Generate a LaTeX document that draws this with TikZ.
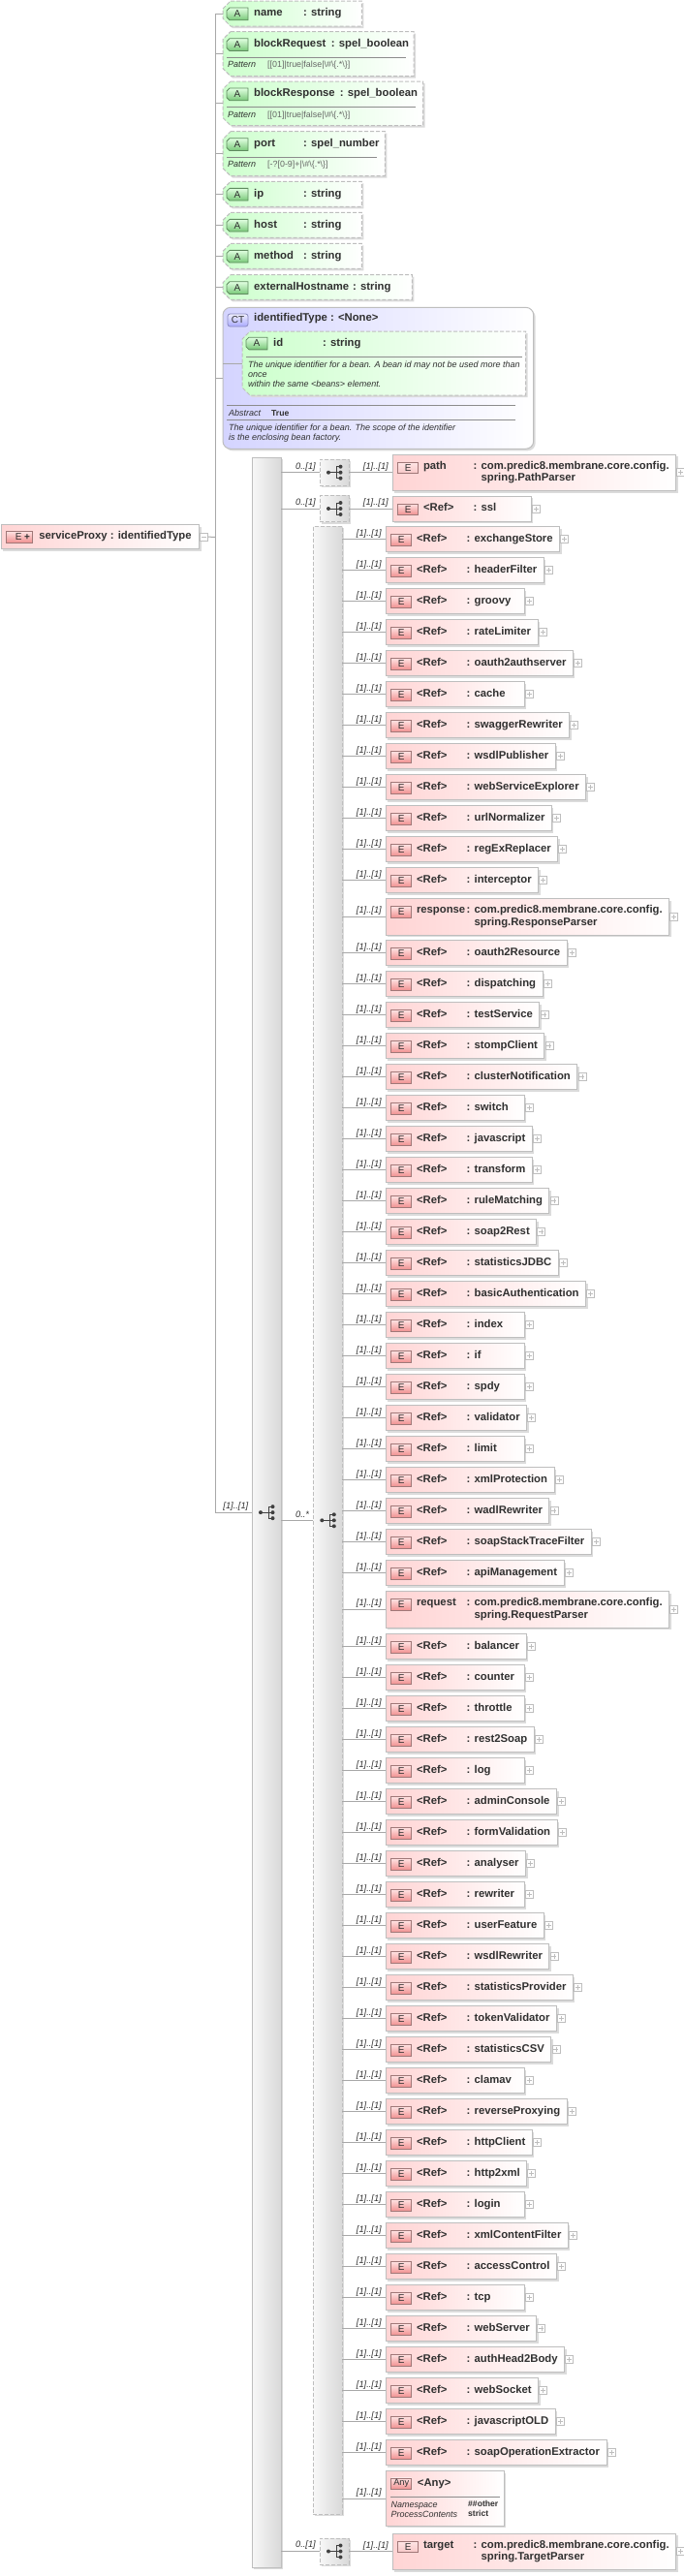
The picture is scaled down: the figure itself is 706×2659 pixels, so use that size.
\documentclass[tikz,border=0pt]{standalone}
\usepackage{fontspec}
\setmainfont{Liberation Sans}
\usetikzlibrary{shapes.misc,shadows,calc}
\definecolor{txt}{HTML}{303030}
\definecolor{edge}{HTML}{BEBEBE}
\definecolor{conncol}{HTML}{A8A8A8}
\definecolor{pinkb}{HTML}{FFD4D4}
\definecolor{greenb}{HTML}{CCFFCC}
\definecolor{blueb}{HTML}{D4D4FF}
\definecolor{iconred}{HTML}{F09090}
\definecolor{iconredb}{HTML}{A07878}
\definecolor{icongreen}{HTML}{78C878}
\definecolor{icongreenb}{HTML}{5F8A5F}
\newsavebox\rowbox
\newcommand\minrow[1]{\sbox\rowbox{#1}\ifdim\wd\rowbox<129pt\makebox[129pt][l]{\usebox\rowbox}\else\usebox\rowbox\fi}
\tikzset{
  shadowed/.style={general shadow={shadow xshift=2pt,shadow yshift=-2pt,fill=black!14}},
  elbox/.style={rectangle,draw=edge,line width=1pt,anchor=north west,outer sep=0pt,inner xsep=7pt,inner ysep=0pt,
    left color=pinkb,right color=white,shadowed,text=txt,font=\fontsize{11.3}{12.4}\selectfont\bfseries,
    text height=8pt,text depth=3pt,minimum height=26pt,minimum width=143pt},
  twoline/.style={text depth=15pt,minimum height=37.5pt},
  eicon/.style={rectangle,draw=iconredb,line width=.8pt,top color=pinkb!70,bottom color=iconred,minimum width=21pt,minimum height=11.5pt,inner sep=0pt,text=txt,font=\fontsize{10}{10}\selectfont},
  eiconl/.style={eicon,top color=pinkb!60,bottom color=iconred!50},
  plusbox/.style={rectangle,draw=edge,line width=.7pt,fill=white,minimum size=8pt,inner sep=0pt,outer sep=0pt,anchor=west,
    path picture={\draw[edge,line width=.6pt] ($(path picture bounding box.center)+(-2.5pt,0pt)$) -- ($(path picture bounding box.center)+(2.5pt,0pt)$);
      \draw[edge,line width=.6pt] ($(path picture bounding box.center)+(0pt,-2.5pt)$) -- ($(path picture bounding box.center)+(0pt,2.5pt)$);}},
  minusbox/.style={rectangle,draw=edge,line width=.7pt,fill=white,minimum size=8pt,inner sep=0pt,outer sep=0pt,anchor=west,
    path picture={\draw[edge,line width=.6pt] ($(path picture bounding box.center)+(-2.5pt,0pt)$) -- ($(path picture bounding box.center)+(2.5pt,0pt)$);}},
  conn/.style={draw=conncol,line width=1pt},
  mult/.style={anchor=base east,inner sep=0pt,text=txt,font=\fontsize{9.3}{10}\selectfont\itshape},
  boxanchor/.style={rectangle,inner sep=0pt,outer sep=0pt,anchor=west},
  attrpath/.style={draw=edge,dash pattern=on 4pt off 2pt,line width=1pt,left color=greenb,right color=white,shadowed},
  aiconpath/.style={draw=icongreenb,line width=.8pt,top color=greenb!60,bottom color=icongreen},
  icontext/.style={inner sep=0pt,text=txt,font=\fontsize{10}{10}\selectfont},
  title/.style={anchor=base west,inner sep=0pt,text=txt,font=\fontsize{11.3}{12.4}\selectfont\bfseries},
  small/.style={anchor=base west,inner sep=0pt,text=txt,font=\fontsize{9}{10}\selectfont\itshape},
  smallv/.style={anchor=base west,inner sep=0pt,text=black!60,font=\fontsize{8.9}{10}\selectfont},
  rule/.style={draw=black!45,line width=.7pt},
  barbox/.style={rectangle,line width=1pt,draw=edge,left color=black!3,right color=black!15,shadowed,inner sep=0pt,outer sep=0pt,anchor=north west},
  dashbar/.style={barbox,dash pattern=on 4pt off 2pt},
  seqicon/.pic={
    \draw[black!75,line width=.9pt] (-6,0) -- (2,0) (2,-6) -- (2,6) (2,-6) -- (6.5,-6) (2,0) -- (6.5,0) (2,6) -- (6.5,6);
    \fill[black!75] (-6,0) circle (2pt) (6.5,-6) circle (2pt) (6.5,0) circle (2pt) (6.5,6) circle (2pt);
  },
}
% a path with chamfered left corners round a named node: node, chamfer in pt, style
\newcommand\chamfer[3]{%
  \path[#3] ($(#1.north west)+(#2pt,0pt)$) -- (#1.north east) -- (#1.south east)
    -- ($(#1.south west)+(#2pt,0pt)$) -- ($(#1.south west)+(0pt,#2pt)$) -- ($(#1.north west)+(0pt,-#2pt)$) -- cycle;
}
\newcommand\aiconat[2]{% id, position
  \node[rectangle,inner sep=0pt,outer sep=0pt,minimum width=22pt,minimum height=12.7pt] (ai#1) at (#2) {};
  \chamfer{ai#1}{3}{aiconpath}
  \node[icontext] (ait#1) at (ai#1.center) {A};
}
\newcommand\attrrow[5]{% id, top, height, width, colwidth; type in \attrtype
  \pgfmathsetmacro\attrmid{#2+#3/2}
  \node[boxanchor,minimum width=#4 pt,minimum height=#3 pt] (a#1) at (230,\attrmid) {};
  \chamfer{a#1}{8}{attrpath}
  \aiconat{#1}{[shift={(15pt,-13.4pt)}]a#1.north west}
  \node[title] (at#1) at ([xshift=32pt,yshift=-15.7pt]a#1.north west) {\makebox[#5pt][l]{#1}: \attrtype};
  \draw[conn] (trunk |- a#1.west) -- (a#1.west);
}
\newcommand\attrpat[3]{% id, top, pattern
  \pgfmathsetmacro\attrhl{#2+26.5}
  \pgfmathsetmacro\attrbl{#2+37}
  \draw[rule] (234,\attrhl) -- ($(a#1.east |- 0,\attrhl)+(-8pt,0pt)$);
  \node[small] (pl#1) at (235,\attrbl) {Pattern};
  \node[smallv] (pv#1) at (276,\attrbl) {#3};
}
\newcommand\rowtail[2]{% id, left connector source
  \node[plusbox] (p#1) at ([xshift=1pt]e#1.east) {};
  \draw[conn] (#2.east |- e#1.west) -- (e#1.west);
  \node[mult] (l#1) at ([shift={(-4pt,3.6pt)}]e#1.west) {[1]..[1]};
}
\newcommand\refrow[2]{%
  \node[elbox] (e#1) at (398,#2) {\minrow{\hspace*{25pt}\makebox[51.7pt][l]{<Ref>}: #1}};
  \node[eicon] (i#1) at ([shift={(16.3pt,-13.8pt)}]e#1.north west) {E};
  \rowtail{#1}{big}
}
\newcommand\longrow[5]{% id,x,top,type2,label
  \node[elbox,twoline] (e#1) at (#2,#3) {\hspace*{25pt}\makebox[51.7pt][l]{#1}: \vtop{\hbox{com.predic8.membrane.core.config.}\hbox{#4}}};
  \node[#5] (i#1) at ([shift={(16.3pt,-13.8pt)}]e#1.north west) {E};
}
\newcommand\optgroup[2]{% id,center y
  \node[dashbar,anchor=center,minimum width=30pt,minimum height=27pt] (g#1) at (345,#2) {};
  \pic at (g#1.center) {seqicon};
  \draw[conn] (bar.east |- g#1.west) -- (g#1.west);
  \node[mult] (gl#1) at ([shift={(-4pt,3.6pt)}]g#1.west) {0..[1]};
}
\begin{document}
\begin{tikzpicture}[x=1pt,y=-1pt]
\useasboundingbox (0,0) rectangle (706,2659);
\fill[white] (0,0) rectangle (706,2659);

% root
\node[elbox,minimum width=204.7pt,minimum height=25pt] (root) at (1,541.7) {\hspace*{32pt}\makebox[158pt][l]{serviceProxy : identifiedType}};
\node[eicon,minimum width=26.5pt] (rooticon) at ([shift={(19pt,-12.7pt)}]root.north west) {E\,\rlap{\hspace{1pt}\bfseries +}\hspace{9pt}};
\node[minusbox] (rootminus) at ([xshift=1pt]root.east) {};
\coordinate (trunk) at (222.3,554.3);
\draw[conn] (rootminus.east) -- (trunk);

% bars first
\node[barbox,minimum width=30pt,minimum height=2177.7pt] (bar) at (260,472.3) {};
\pic at (bar.center) {seqicon};
\node[dashbar,minimum width=30pt,minimum height=2051.7pt] (big) at (323.3,543.3) {};
\pic at (338.3,1569.3) {seqicon};

% attributes
\def\attrtype{string}
\attrrow{name}{1}{26}{143.3}{51}
\def\attrtype{spel\_boolean}
\attrrow{blockRequest}{32.7}{46}{197}{79.7}
\attrpat{blockRequest}{32.7}{[[01]|true|false|\textbackslash\#\textbackslash\{.*\textbackslash\}]}
\attrrow{blockResponse}{84}{45.5}{206.7}{88.7}
\attrpat{blockResponse}{84}{[[01]|true|false|\textbackslash\#\textbackslash\{.*\textbackslash\}]}
\def\attrtype{spel\_number}
\attrrow{port}{135.7}{46}{167.3}{51}
\attrpat{port}{135.7}{[-?[0-9]+|\textbackslash\#\textbackslash\{.*\textbackslash\}]}
\def\attrtype{string}
\attrrow{ip}{187.3}{26}{143.3}{51}
\attrrow{host}{219.3}{26}{143.3}{51}
\attrrow{method}{251.3}{26}{143.3}{51}
\attrrow{externalHostname}{283.7}{25.7}{195.3}{102}

% complex type
\node[rectangle,rounded corners=8pt,draw=edge,line width=1pt,left color=blueb,right color=white,shadowed,anchor=north west,minimum width=320.7pt,minimum height=146pt,inner sep=0pt,outer sep=0pt] (ct) at (230,317.3) {};
\draw[conn] (trunk |- ct.west) -- (ct.west);
\node[rectangle,rounded corners=2.5pt,draw=black!55!blue!45,line width=.8pt,top color=blueb!40,bottom color=blueb!80!blue,minimum width=21pt,minimum height=13pt,inner sep=0pt,text=txt,font=\fontsize{10}{10}\selectfont] (cticon) at (245.5,330.5) {CT};
\node[title] (cttitle) at (262,331.7) {identifiedType : <None>};
\node[boxanchor,minimum width=292.7pt,minimum height=66pt] (aid) at (250,375) {};
\chamfer{aid}{8}{attrpath}
\draw[conn] (ct.west |- aid.west) -- (aid.west);
\aiconat{id}{265,354.5}
\node[title] (atid) at (282,357.7) {\makebox[51pt][l]{id}: string};
\draw[rule] (254,368.3) -- (539,368.3);
\node[small] (docid1) at (256,379) {The unique identifier for a bean. A bean id may not be used more than};
\node[small] (docid2) at (256,389) {once};
\node[small] (docid3) at (256,399) {within the same <beans> element.};
\draw[rule] (234,418.3) -- (532,418.3);
\node[small] (abslab) at (236,429.3) {Abstract};
\node[smallv,text=txt,font=\fontsize{8.6}{10}\selectfont\bfseries] (absval) at (280,429.3) {True};
\draw[rule] (234,433.3) -- (532,433.3);
\node[small] (doc1) at (236,444) {The unique identifier for a bean. The scope of the identifier};
\node[small] (doc2) at (236,454) {is the enclosing bean factory.};

% trunk to main sequence
\draw[conn] (trunk |- aname.west) -- (trunk |- bar.west) -- (bar.west);
\node[mult] (barlab) at ([shift={(-3.5pt,3.4pt)}]bar.west) {[1]..[1]};

% optional groups
\optgroup{path}{487.7}
\longrow{path}{405}{469}{spring.PathParser}{eiconl}
\draw[conn] (gpath.east) -- (gpath.east -| epath.west);
\node[plusbox] (ppath) at ([xshift=1pt]epath.east) {};
\node[mult] (lpath) at ([shift={(-4pt,3.6pt)}]epath.west) {[1]..[1]};

\optgroup{ssl}{525}
\node[elbox] (essl) at (405,512) {\minrow{\hspace*{25pt}\makebox[51.7pt][l]{<Ref>}: ssl}};
\node[eicon] (issl) at ([shift={(16.3pt,-13.8pt)}]essl.north west) {E};
\draw[conn] (gssl.east) -- (gssl.east -| essl.west);
\node[plusbox] (pssl) at ([xshift=1pt]essl.east) {};
\node[mult] (lssl) at ([shift={(-4pt,3.6pt)}]essl.west) {[1]..[1]};

% big group connector
\draw[conn] (bar.east |- 0,1569.3) -- (big.west |- 0,1569.3);
\node[mult] (biglab) at (319.3,1566) {0..*};

% rows
\foreach \n [count=\i from 0] in {exchangeStore,headerFilter,groovy,rateLimiter,oauth2authserver,cache,swaggerRewriter,wsdlPublisher,webServiceExplorer,urlNormalizer,regExReplacer,interceptor}{
  \pgfmathsetmacro\rowy{543.7+32*\i}
  \refrow{\n}{\rowy}
}
\longrow{response}{398}{927.7}{spring.ResponseParser}{eicon}
\rowtail{response}{big}
\foreach \n [count=\i from 0] in {oauth2Resource,dispatching,testService,stompClient,clusterNotification,switch,javascript,transform,ruleMatching,soap2Rest,statisticsJDBC,basicAuthentication,index,if,spdy,validator,limit,xmlProtection,wadlRewriter,soapStackTraceFilter,apiManagement}{
  \pgfmathsetmacro\rowy{970.7+32*\i}
  \refrow{\n}{\rowy}
}
\longrow{request}{398}{1642.7}{spring.RequestParser}{eicon}
\rowtail{request}{big}
\foreach \n [count=\i from 0] in {balancer,counter,throttle,rest2Soap,log,adminConsole,formValidation,analyser,rewriter,userFeature,wsdlRewriter,statisticsProvider,tokenValidator,statisticsCSV,clamav,reverseProxying,httpClient,http2xml,login,xmlContentFilter,accessControl,tcp,webServer,authHead2Body,webSocket,javascriptOLD,soapOperationExtractor}{
  \pgfmathsetmacro\rowy{1686.7+32*\i}
  \refrow{\n}{\rowy}
}
% any
\node[elbox,minimum width=122pt,minimum height=56.7pt] (eany) at (398,2550.7) {};
\node[eicon,font=\fontsize{9.3}{10}\selectfont] (iany) at (414.3,2563.7) {Any};
\node[title] (tany) at (430.7,2566) {<Any>};
\draw[rule] (403,2577) -- (516,2577);
\node[small] (ns1) at (403.5,2588) {Namespace};
\node[small] (ns2) at (403.5,2598) {ProcessContents};
\node[smallv,text=txt,font=\fontsize{8.6}{10}\selectfont\bfseries] (nv1) at (483,2587) {\#\#other};
\node[smallv,text=txt,font=\fontsize{8.6}{10}\selectfont\bfseries] (nv2) at (483,2597) {strict};
\draw[conn] (big.east |- eany.west) -- (eany.west);
\node[mult] (lany) at ([shift={(-4pt,3.6pt)}]eany.west) {[1]..[1]};

% target
\optgroup{target}{2633.5}
\longrow{target}{405}{2615}{spring.TargetParser}{eiconl}
\draw[conn] (gtarget.east) -- (gtarget.east -| etarget.west);
\node[plusbox] (ptarget) at ([xshift=1pt]etarget.east) {};
\node[mult] (ltarget) at ([shift={(-4pt,3.6pt)}]etarget.west) {[1]..[1]};
\end{tikzpicture}
\end{document}
